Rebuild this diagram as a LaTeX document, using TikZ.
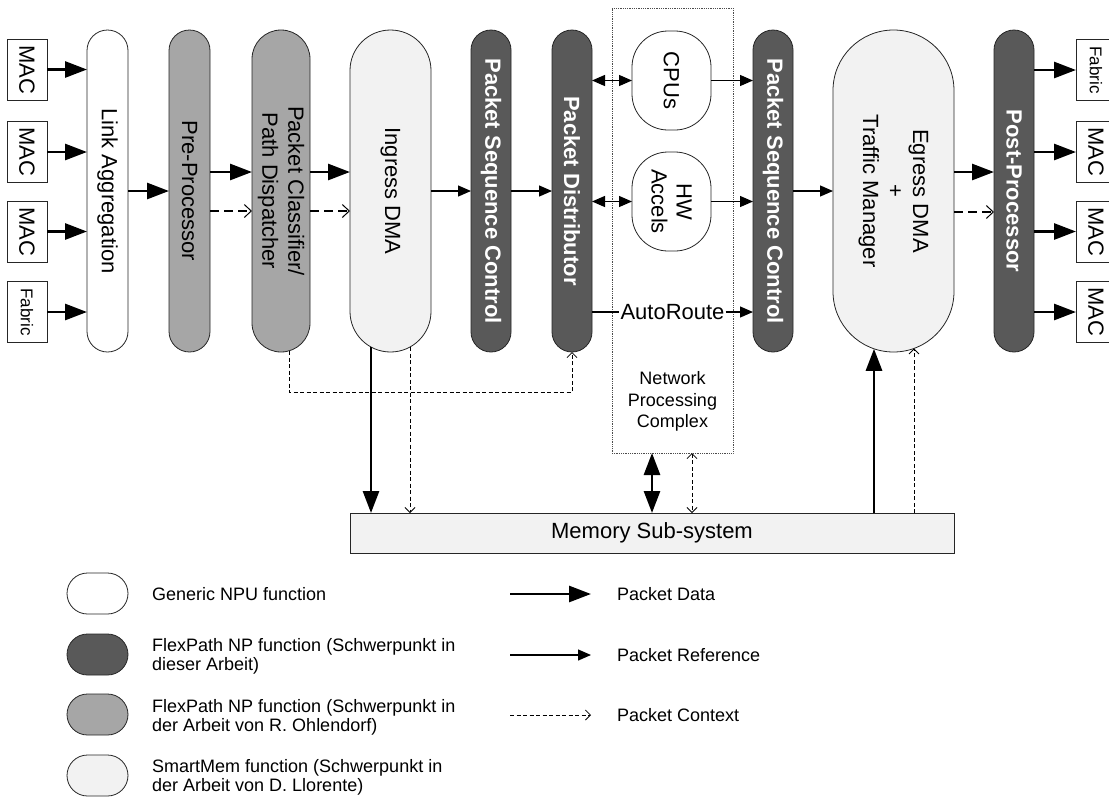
\documentclass[tikz,border=0pt]{standalone}
\usepackage{fontspec}
\setmainfont{Liberation Sans}
\usetikzlibrary{arrows.meta,calc}

\definecolor{npdark}{HTML}{595959}
\definecolor{npmid}{HTML}{A6A6A6}
\definecolor{smlight}{HTML}{F2F2F2}

\tikzset{
  block/.style={draw=black!85, line width=0.8pt, inner sep=0pt, outer sep=0pt},
  tall/.style={block, minimum height=322pt},
  generic/.style={fill=white},
  flexown/.style={fill=npdark},
  flexext/.style={fill=npmid},
  smart/.style={fill=smlight},
  port/.style={block, fill=white, minimum width=40pt, minimum height=61pt},
  vtext/.style={rotate=-90, align=center, inner sep=0pt, font=\fontsize{22}{26}\selectfont},
  vbold/.style={rotate=-90, align=center, inner sep=0pt, text=white, font=\fontsize{22}{26}\selectfont\bfseries},
  lgtext/.style={anchor=west, align=left, inner sep=0pt, font=\fontsize{18}{19}\selectfont},
  data/.style={line width=2.8pt, -{Triangle[length=22pt,width=16pt]}},
  databoth/.style={line width=2.8pt, {Triangle[length=22pt,width=16pt]}-{Triangle[length=22pt,width=16pt]}},
  ref/.style={line width=1.3pt, -{Triangle[length=13pt,width=11pt]}},
  refboth/.style={line width=1.3pt, {Triangle[length=13pt,width=11pt]}-{Triangle[length=13pt,width=11pt]}},
  ctxa/.style={line width=1.2pt, dash pattern=on 9pt off 5pt, -{Straight Barb[length=7pt,width=13pt,line width=1pt]}},
  ctx/.style={line width=0.8pt, dash pattern=on 4pt off 2.5pt, -{Straight Barb[length=5pt,width=10pt,line width=0.8pt]}},
  ctxboth/.style={line width=0.8pt, dash pattern=on 4pt off 2.5pt, {Straight Barb[length=5pt,width=10pt,line width=0.8pt]}-{Straight Barb[length=5pt,width=10pt,line width=0.8pt]}},
}

\begin{document}
\begin{tikzpicture}[x=1pt, y=-1pt]
\useasboundingbox (0,0) rectangle (1109,796);

% network processing complex (drawn behind its members)
\node[draw=black!70, line width=0.8pt, densely dotted, minimum width=121pt, minimum height=445pt, inner sep=0pt, outer sep=0pt] (npc) at (672.5,230.5) {};
\node[align=center, inner sep=0pt, font=\fontsize{18}{21.5}\selectfont] (npct) at (672.5,401.5) {Network\\Processing\\Complex};

% ingress ports
\node[port] (ip1) at (27,69.5) {};
\node[vtext] (ip1t) at (ip1) {MAC};
\node[port] (ip2) at (27,152) {};
\node[vtext] (ip2t) at (ip2) {MAC};
\node[port] (ip3) at (27,231.5) {};
\node[vtext] (ip3t) at (ip3) {MAC};
\node[port] (ip4) at (27,312) {};
\node[vtext, font=\fontsize{17}{20}\selectfont] (ip4t) at (ip4) {Fabric};

% egress ports
\node[port] (op1) at (1096,70) {};
\node[vtext, font=\fontsize{17}{20}\selectfont] (op1t) at (op1) {Fabric};
\node[port] (op2) at (1096,152) {};
\node[vtext] (op2t) at (op2) {MAC};
\node[port] (op3) at (1096,231.5) {};
\node[vtext] (op3t) at (op3) {MAC};
\node[port] (op4) at (1096,312) {};
\node[vtext] (op4t) at (op4) {MAC};

% pipeline stages
\node[tall, generic, minimum width=41pt, rounded corners=20.5pt] (la) at (107.5,191) {};
\node[vtext] (lat) at (la) {Link Aggregation};
\node[tall, flexext, minimum width=41pt, rounded corners=20.5pt] (pp) at (189.5,191) {};
\node[vtext] (ppt) at (pp) {Pre-Processor};
\node[tall, flexext, minimum width=58pt, rounded corners=29pt] (cls) at (281,191) {};
\node[vtext] (clst) at (cls) {Packet Classifier/\\Path Dispatcher};
\node[tall, smart, minimum width=81pt, rounded corners=40.5pt] (ing) at (390.5,191) {};
\node[vtext] (ingt) at (ing) {Ingress DMA};
\node[tall, flexown, minimum width=40pt, rounded corners=20pt] (psc1) at (491,191) {};
\node[vbold] (psc1t) at (psc1) {Packet Sequence Control};
\node[tall, flexown, minimum width=40pt, rounded corners=20pt] (pd) at (572,191) {};
\node[vbold] (pdt) at (pd) {Packet Distributor};
\node[block, generic, minimum width=79pt, minimum height=99pt, rounded corners=36pt] (cpus) at (671.5,80.5) {};
\node[vtext] (cpust) at (cpus) {CPUs};
\node[block, generic, minimum width=79pt, minimum height=99pt, rounded corners=36pt] (hw) at (671.5,201.5) {};
\node[vtext, font=\fontsize{22}{25}\selectfont] (hwt) at (hw) {HW\\Accels};
\node[tall, flexown, minimum width=40pt, rounded corners=20pt] (psc2) at (773,191) {};
\node[vbold] (psc2t) at (psc2) {Packet Sequence Control};
\node[tall, smart, minimum width=121pt, rounded corners=60.5pt] (eg) at (893.5,191) {};
\node[vtext, font=\fontsize{22}{25}\selectfont] (egt) at (eg) {Egress DMA\\+\\Traffic Manager};
\node[tall, flexown, minimum width=40pt, rounded corners=20pt] (post) at (1014,191) {};
\node[vbold] (postt) at (post) {Post-Processor};

% memory
\node[block, smart, minimum width=604pt, minimum height=40pt, font=\fontsize{22}{26}\selectfont] (mem) at (652,533) {Memory Sub-system};

% ingress side
\draw[data] (ip1.east) -- (ip1.east -| la.west);
\draw[data] (ip2.east) -- (ip2.east -| la.west);
\draw[data] (ip3.east) -- (ip3.east -| la.west);
\draw[data] (ip4.east) -- (ip4.east -| la.west);
\draw[data] (la.east) -- (pp.west);
\draw[data] ([yshift=19pt]pp.east) -- ([yshift=19pt]cls.west);
\draw[ctxa] ([yshift=-20pt]pp.east) -- ([yshift=-20pt]cls.west);
\draw[data] ([yshift=19pt]cls.east) -- ([yshift=19pt]ing.west);
\draw[ctxa] ([yshift=-20pt]cls.east) -- ([yshift=-20pt]ing.west);
\draw[ref] (ing.east) -- (psc1.west);
\draw[ref] (psc1.east) -- (pd.west);

% processing complex
\draw[refboth] (cpus.west -| pd.east) -- (cpus.west);
\draw[refboth] (hw.west -| pd.east) -- (hw.west);
\draw[ref] (cpus.east) -- (cpus.east -| psc2.west);
\draw[ref] (hw.east) -- (hw.east -| psc2.west);
\node[inner sep=1pt, font=\fontsize{22}{26}\selectfont] (ar) at (672.5,312) {AutoRoute};
\draw[line width=1.3pt] (ar.west -| pd.east) -- (ar.west);
\draw[ref] (ar.east) -- (ar.east -| psc2.west);

% egress side
\draw[ref] (psc2.east) -- (eg.west);
\draw[data] ([yshift=19pt]eg.east) -- ([yshift=19pt]post.west);
\draw[ctxa] ([yshift=-21pt]eg.east) -- ([yshift=-21pt]post.west);
\draw[data] (op1.west -| post.east) -- (op1.west);
\draw[data] (op2.west -| post.east) -- (op2.west);
\draw[data] (op3.west -| post.east) -- (op3.west);
\draw[data] (op4.west -| post.east) -- (op4.west);

% context path classifier -> distributor
\coordinate (clsB) at ($(cls.south)+(8pt,1pt)$);
\draw[ctx] (clsB) -- ++(0,41) -| (pd.south);

% memory traffic
\coordinate (ingB1) at ($(ing.south)+(-19.5pt,5pt)$);
\coordinate (ingB2) at ($(ing.south)+(19.5pt,5pt)$);
\draw[data] (ingB1) -- (ingB1 |- mem.north);
\draw[ctx] (ingB2) -- (ingB2 |- mem.north);
\coordinate (npcB1) at ($(npc.south)+(-20.5pt,0pt)$);
\coordinate (npcB2) at ($(npc.south)+(19.5pt,0pt)$);
\draw[databoth] (npcB1) -- (npcB1 |- mem.north);
\draw[ctxboth] (npcB2) -- (npcB2 |- mem.north);
\coordinate (egB1) at ($(eg.south)+(-19.5pt,3.2pt)$);
\coordinate (egB2) at ($(eg.south)+(20.5pt,3.6pt)$);
\draw[data] (egB1 |- mem.north) -- (egB1);
\draw[ctx] (egB2 |- mem.north) -- (egB2);

% legend: function classes
\node[block, generic, minimum width=61pt, minimum height=41pt, rounded corners=20.5pt] (lg1) at (97.5,593.5) {};
\node[lgtext] (lg1t) at (152,594) {Generic NPU function};
\node[block, flexown, minimum width=61pt, minimum height=41pt, rounded corners=20.5pt] (lg2) at (97.5,654.5) {};
\node[lgtext] (lg2t) at (152,656.5) {FlexPath NP function (Schwerpunkt in\\dieser Arbeit)};
\node[block, flexext, minimum width=61pt, minimum height=41pt, rounded corners=20.5pt] (lg3) at (97.5,714.5) {};
\node[lgtext] (lg3t) at (152,717) {FlexPath NP function (Schwerpunkt in\\der Arbeit von R. Ohlendorf)};
\node[block, smart, minimum width=61pt, minimum height=41pt, rounded corners=20.5pt] (lg4) at (97.5,775.5) {};
\node[lgtext] (lg4t) at (152,777.5) {SmartMem function (Schwerpunkt in\\der Arbeit von D. Llorente)};

% legend: connector kinds
\coordinate (ka1) at (510,594);
\coordinate (kb1) at (591,594);
\draw[data] (ka1) -- (kb1);
\node[lgtext] (k1t) at (617,594) {Packet Data};
\coordinate (ka2) at (510,655);
\coordinate (kb2) at (591,655);
\draw[ref] (ka2) -- (kb2);
\node[lgtext] (k2t) at (617,655) {Packet Reference};
\coordinate (ka3) at (510,715);
\coordinate (kb3) at (591,715);
\draw[ctx] (ka3) -- (kb3);
\node[lgtext] (k3t) at (617,715) {Packet Context};
\end{tikzpicture}
\end{document}
